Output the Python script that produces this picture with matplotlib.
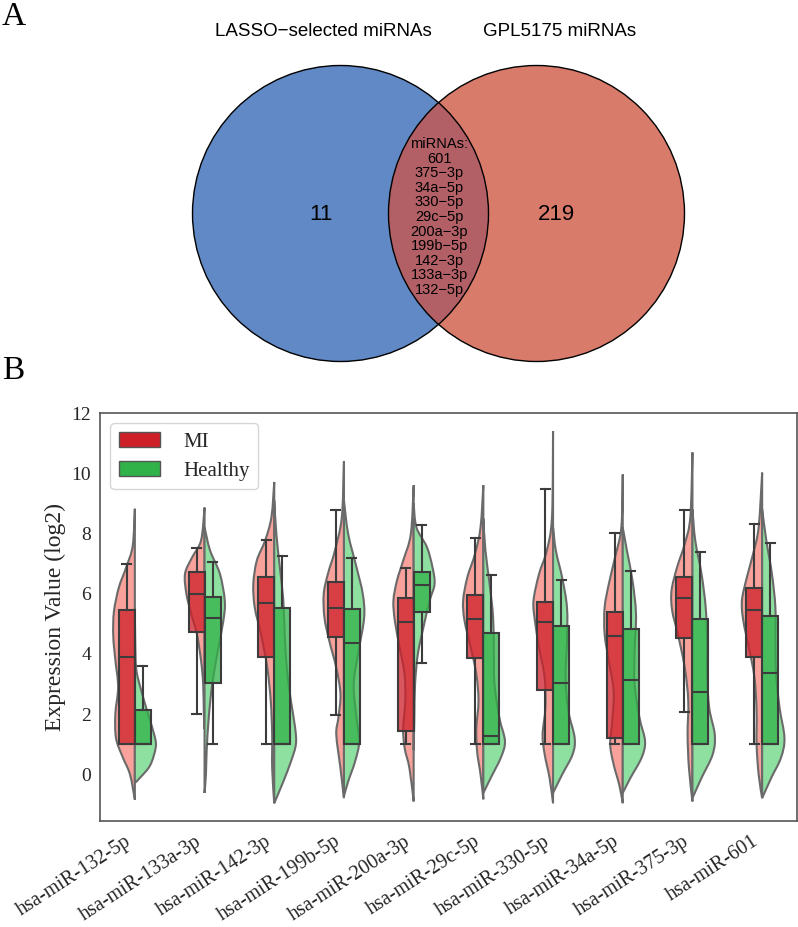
import numpy as np
import matplotlib
matplotlib.use("Agg")
import matplotlib.pyplot as plt
from matplotlib.patches import Circle, Patch, PathPatch
from matplotlib.path import Path

# ---- Venn data ----
set_names = ["LASSO\u2212selected miRNAs", "GPL5175 miRNAs"]
only_counts = [11, 219]
shared = ["601", "375\u22123p", "34a\u22125p", "330\u22125p", "29c\u22125p", "200a\u22123p",
          "199b\u22125p", "142\u22123p", "133a\u22123p", "132\u22125p"]

# ---- expression data ----
mirnas = ["hsa-miR-132-5p", "hsa-miR-133a-3p", "hsa-miR-142-3p", "hsa-miR-199b-5p",
          "hsa-miR-200a-3p", "hsa-miR-29c-5p", "hsa-miR-330-5p", "hsa-miR-34a-5p",
          "hsa-miR-375-3p", "hsa-miR-601"]

# box stats (MI)
mi_q1 = [1.0, 4.73, 3.90, 4.57, 1.43, 3.86, 2.79, 1.21, 4.54, 3.90]
mi_med = [3.91, 5.99, 5.69, 5.52, 5.07, 5.16, 5.07, 4.60, 5.84, 5.47]
mi_q3 = [5.47, 6.73, 6.54, 6.38, 5.86, 5.96, 5.73, 5.40, 6.57, 6.18]
mi_lo = [1.0, 2.02, 1.0, 1.96, 1.0, 1.0, 1.0, 1.0, 2.07, 1.0]
mi_hi = [6.99, 7.52, 7.77, 8.77, 6.84, 7.84, 9.49, 8.02, 8.79, 8.32]

# box stats (Healthy)
h_q1 = [1.0, 3.04, 1.0, 1.0, 5.40, 1.0, 1.0, 1.0, 1.0, 1.0]
h_med = [1.0, 5.20, 1.0, 4.36, 6.29, 1.27, 3.04, 3.13, 2.73, 3.36]
h_q3 = [2.13, 5.88, 5.51, 5.49, 6.71, 4.69, 4.91, 4.82, 5.16, 5.27]
h_lo = [1.0, 1.0, 1.0, 1.0, 3.69, 1.0, 1.0, 1.0, 1.0, 1.0]
h_hi = [3.59, 7.04, 7.24, 7.18, 8.27, 6.62, 6.47, 6.76, 7.40, 7.69]

# violin outlines: y levels and half widths
mi_vy = [
    [8.82, 7.6, 6.9, 6.2, 5.4, 4.6, 3.8, 2.9, 2.0, 1.2, 0.6, 0.0, -0.84],
    [8.86, 7.77, 7.2, 6.66, 5.99, 5.32, 4.66, 3.77, 3.0, 2.0, 1.5],
    [9.71, 8.55, 7.77, 7.1, 6.32, 5.54, 4.66, 3.54, 2.43, 1.32, 0.2, -0.96],
    [10.4, 8.55, 7.43, 6.66, 5.99, 5.21, 4.43, 3.54, 2.66, 1.88, 1.32, 0.2, -0.79],
    [9.6, 7.99, 7.1, 6.43, 5.77, 5.1, 4.21, 3.32, 2.43, 1.54, 0.88, 0.2, -0.9],
    [9.6, 8.21, 7.32, 6.54, 5.77, 5.1, 4.21, 3.32, 2.43, 1.54, 0.77, -0.01, -0.83],
    [11.4, 8.55, 7.43, 6.66, 5.77, 5.1, 4.21, 3.21, 2.21, 1.32, 0.66, -0.12, -0.96],
    [9.96, 8.21, 7.21, 6.32, 5.54, 4.66, 3.77, 2.77, 1.77, 0.99, 0.32, -0.35, -0.96],
    [10.69, 8.55, 7.66, 6.88, 6.1, 5.43, 4.66, 3.54, 2.43, 1.32, 0.2, -0.9],
    [10.02, 8.21, 7.32, 6.54, 5.77, 5.1, 4.21, 3.21, 2.1, 0.99, -0.01, -0.79],
]
mi_vw = [
    [0, 0.03, 0.12, 0.23, 0.30, 0.31, 0.28, 0.24, 0.28, 0.27, 0.18, 0.07, 0],
    [0, 0.05, 0.18, 0.28, 0.26, 0.19, 0.11, 0.05, 0.02, 0.01, 0],
    [0, 0.04, 0.13, 0.25, 0.30, 0.28, 0.19, 0.10, 0.05, 0.03, 0.03, 0],
    [0, 0.03, 0.13, 0.23, 0.29, 0.28, 0.21, 0.11, 0.05, 0.08, 0.11, 0.05, 0],
    [0, 0.04, 0.15, 0.24, 0.29, 0.27, 0.20, 0.13, 0.12, 0.15, 0.13, 0.06, 0],
    [0, 0.04, 0.12, 0.23, 0.29, 0.27, 0.18, 0.10, 0.07, 0.10, 0.09, 0.04, 0],
    [0, 0.015, 0.09, 0.20, 0.28, 0.26, 0.20, 0.12, 0.11, 0.15, 0.12, 0.05, 0],
    [0, 0.02, 0.11, 0.20, 0.26, 0.26, 0.20, 0.13, 0.15, 0.18, 0.13, 0.05, 0],
    [0, 0.03, 0.11, 0.22, 0.30, 0.29, 0.21, 0.11, 0.06, 0.07, 0.05, 0],
    [0, 0.05, 0.13, 0.22, 0.29, 0.27, 0.19, 0.11, 0.08, 0.08, 0.05, 0],
]
h_vy = [
    [5.5, 4.5, 3.5, 2.8, 2.0, 1.3, 0.9, 0.3, -0.1, -0.29],
    [8.2, 7.43, 6.66, 5.77, 5.1, 4.1, 2.99, 1.88, 0.77, 0.0, -0.62],
    [9.1, 7.99, 6.88, 5.77, 4.66, 3.54, 2.43, 1.54, 0.99, 0.43, -0.24, -0.96],
    [9.1, 7.99, 6.88, 5.99, 5.21, 4.1, 2.99, 1.88, 1.1, 0.43, -0.24, -0.73],
    [9.0, 8.2, 7.55, 6.88, 6.32, 5.77, 4.88, 3.99, 2.99, 1.88, 0.8],
    [8.5, 7.43, 6.32, 5.21, 4.1, 2.99, 1.88, 1.1, 0.55, -0.1, -0.62],
    [8.2, 7.43, 6.54, 5.54, 4.43, 3.21, 2.1, 1.21, 0.66, -0.01, -0.62],
    [8.2, 7.43, 6.43, 5.32, 4.1, 2.99, 1.88, 1.1, 0.55, -0.12, -0.62],
    [8.8, 7.77, 6.66, 5.54, 4.43, 3.32, 2.21, 1.32, 0.66, -0.12, -0.79],
    [8.8, 7.77, 6.66, 5.54, 4.43, 3.32, 2.21, 1.21, 0.55, -0.12, -0.79],
]
h_vw = [
    [0, 0.005, 0.02, 0.09, 0.19, 0.28, 0.30, 0.22, 0.08, 0],
    [0, 0.08, 0.22, 0.29, 0.27, 0.19, 0.11, 0.06, 0.03, 0.02, 0],
    [0, 0.03, 0.08, 0.13, 0.15, 0.18, 0.24, 0.30, 0.31, 0.24, 0.13, 0],
    [0, 0.06, 0.18, 0.27, 0.29, 0.21, 0.14, 0.18, 0.22, 0.16, 0.06, 0],
    [0, 0.04, 0.19, 0.27, 0.30, 0.23, 0.14, 0.06, 0.02, 0.01, 0],
    [0, 0.03, 0.09, 0.14, 0.15, 0.16, 0.23, 0.31, 0.25, 0.11, 0],
    [0, 0.04, 0.13, 0.20, 0.20, 0.18, 0.22, 0.31, 0.28, 0.13, 0],
    [0, 0.06, 0.14, 0.19, 0.17, 0.17, 0.24, 0.32, 0.27, 0.11, 0],
    [0, 0.04, 0.13, 0.19, 0.21, 0.21, 0.24, 0.32, 0.29, 0.13, 0],
    [0, 0.06, 0.14, 0.19, 0.19, 0.20, 0.25, 0.32, 0.27, 0.13, 0],
]

MI_COLOR = "#ce1e28"
H_COLOR = "#30b248"


def half_violin(ax, center, ys, ws, side, color):
    # smooth outline through the knots (Catmull-Rom as cubic beziers), closed along the centre
    pts = np.column_stack([center + side * np.asarray(ws, float), np.asarray(ys, float)])
    n = len(pts)
    verts = [pts[0]]
    codes = [Path.MOVETO]
    for i in range(n - 1):
        p0 = pts[max(i - 1, 0)]
        p1 = pts[i]
        p2 = pts[i + 1]
        p3 = pts[min(i + 2, n - 1)]
        verts += [p1 + (p2 - p0) / 6.0, p2 - (p3 - p1) / 6.0, p2]
        codes += [Path.CURVE4] * 3
    verts.append(pts[0])
    codes.append(Path.CLOSEPOLY)
    patch = PathPatch(Path(verts, codes), facecolor=color, edgecolor="#6a6a6a",
                      lw=1.5, zorder=1)
    ax.add_patch(patch)


fig = plt.figure(figsize=(7.98, 9.27), dpi=100)
W, H = 798, 927

# ---------------- panel A : Venn ----------------
ax_v = fig.add_axes([0, 0, 1, 1])
ax_v.set_xlim(0, W)
ax_v.set_ylim(H, 0)
ax_v.axis("off")

r = 148
c1 = (340.5, 213.5)
c2 = (536.5, 213.5)
left = Circle(c1, r, facecolor="#6089c6", edgecolor="none", zorder=1)
right = Circle(c2, r, facecolor="#d87b6a", edgecolor="none", zorder=1)
ax_v.add_patch(left)
ax_v.add_patch(right)
lens = Circle(c2, r, facecolor="#b26066", edgecolor="none", zorder=2)
ax_v.add_patch(lens)
lens.set_clip_path(left)
for c in (c1, c2):
    ax_v.add_patch(Circle(c, r, fill=False, edgecolor="black", lw=1.0, zorder=3))

sans = "Liberation Sans"
ax_v.text(323, 31, set_names[0], ha="center", va="center", fontsize=13.5, family=sans)
ax_v.text(560, 31, set_names[1], ha="center", va="center", fontsize=13.5, family=sans)
ax_v.text(320.7, 214, str(only_counts[0]), ha="center", va="center", fontsize=16, family=sans)
ax_v.text(556.7, 214, str(only_counts[1]), ha="center", va="center", fontsize=16, family=sans)
lens_lines = ["miRNAs:"] + shared
for i, t in enumerate(lens_lines):
    ax_v.text(439, 144 + 14.6 * i, t, ha="center", va="center", fontsize=10.5,
              family=sans, zorder=4)

serif = "Liberation Serif"
fig.text(2 / W, 1 - 25 / H, "A", fontsize=24, family=serif, va="baseline")
fig.text(2 / W, 1 - 379 / H, "B", fontsize=24, family=serif, va="baseline")

# ---------------- panel B : split violins ----------------
ax = fig.add_axes([100 / W, 106 / H, 697 / W, 408 / H])
x = np.arange(len(mirnas))
off = 0.115

for i in x:
    half_violin(ax, i, mi_vy[i], mi_vw[i], -1, "#f9a19b")
    half_violin(ax, i, h_vy[i], h_vw[i], +1, "#8de0a0")

edge = "#3c3c3c"
for q1, med, q3, lo, hi, sign, col in [
    (mi_q1, mi_med, mi_q3, mi_lo, mi_hi, -1, MI_COLOR),
    (h_q1, h_med, h_q3, h_lo, h_hi, +1, H_COLOR),
]:
    stats = [dict(q1=q1[k], med=med[k], q3=q3[k], whislo=lo[k], whishi=hi[k], fliers=[])
             for k in range(len(mirnas))]
    rgba = matplotlib.colors.to_rgba(col, 0.75)
    ax.bxp(stats, positions=x + sign * off, widths=0.23, capwidths=0.13,
           patch_artist=True, showfliers=False, manage_ticks=False, zorder=3,
           boxprops=dict(facecolor=rgba, edgecolor=edge, lw=1.5),
           medianprops=dict(color=edge, lw=1.5),
           whiskerprops=dict(color=edge, lw=1.5),
           capprops=dict(color=edge, lw=1.5))

ax.set_xlim(-0.5, len(mirnas) - 0.5)
ax.set_ylim(-1.55, 12)
ax.set_yticks(range(0, 13, 2))
ax.set_xticks(x)
ax.set_xticklabels(mirnas, rotation=33, ha="right", family=serif, fontsize=14.5)
for lab in ax.get_yticklabels():
    lab.set_family(serif)
    lab.set_fontsize(14)
ax.tick_params(axis="x", length=0, pad=8, colors="#262626")
ax.tick_params(axis="y", length=0, pad=6.5, colors="#262626")
ax.set_ylabel("Expression Value (log2)", family=serif, fontsize=17, color="#262626",
              labelpad=4)
for s in ax.spines.values():
    s.set_color("#555555")
    s.set_linewidth(1.2)

handles = [Patch(facecolor=MI_COLOR, edgecolor="#555555", label="MI"),
           Patch(facecolor=H_COLOR, edgecolor="#555555", label="Healthy")]
leg = ax.legend(handles=handles, loc="upper left", prop=dict(family=serif, size=15),
                handlelength=2.0, handleheight=0.75, handletextpad=1.1,
                labelspacing=0.45, borderpad=0.4, borderaxespad=0.5,
                frameon=True, fancybox=True, edgecolor="#cccccc")
for t in leg.get_texts():
    t.set_color("#262626")

fig.savefig("out.png", dpi=100)
